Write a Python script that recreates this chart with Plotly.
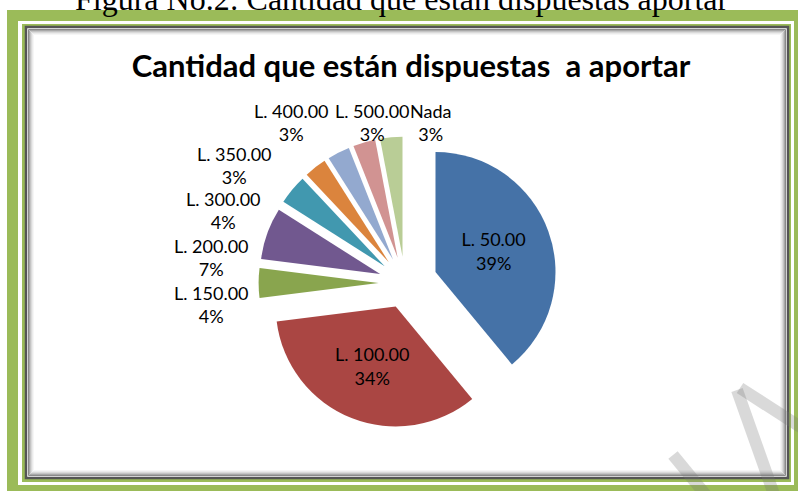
import plotly.graph_objects as go

W, H = 798, 491

# datos del gráfico
etiquetas = ["L. 50.00", "L. 100.00", "L. 150.00", "L. 200.00", "L. 300.00",
             "L. 350.00", "L. 400.00", "L. 500.00", "Nada"]
porcentajes = [39, 34, 4, 7, 4, 3, 3, 3, 3]
colores = ["#4572A7", "#AA4643", "#89A54E", "#71588F", "#4198AF",
           "#DB843D", "#93A9CF", "#D19392", "#B9CD96"]

# the two big slices get their label inside, the small ones outside (placed by hand, like Excel's best fit)
dentro = [True, True, False, False, False, False, False, False, False]
pos_fuera = {2: (211, 304), 3: (211, 257), 4: (223, 210), 5: (234, 165),
             6: (291, 123), 7: (372, 123), 8: (430, 123)}

VERDE = "#9BBB59"
FUENTE = "Lato"
TAM = 18


def px(x):
    return x / W


def py(y):
    return 1 - y / H


def rect(x0, y0, x1, y1, **kw):
    return dict(type="rect", xref="paper", yref="paper",
                x0=px(x0), x1=px(x1), y0=py(y1), y1=py(y0), layer="below", **kw)


# pie centred at (405, 283) px with radius ~120 px
max_pull = 0.27
half = 120 * (1 + max_pull)
cx, cy = 405, 283

textos = [f"{e}<br>{p}%" if d else "" for e, p, d in zip(etiquetas, porcentajes, dentro)]

fig = go.Figure(go.Pie(
    labels=etiquetas,
    values=porcentajes,
    sort=False,
    direction="clockwise",
    rotation=0,
    pull=[0.27, 0.21, 0.22, 0.22, 0.22, 0.22, 0.22, 0.22, 0.22],
    marker=dict(colors=colores, line=dict(width=0)),
    text=textos,
    textinfo="text",
    textposition="inside",
    insidetextorientation="horizontal",
    textfont=dict(family=FUENTE, size=TAM, color="black"),
    showlegend=False,
    hoverinfo="label+percent",
    domain=dict(x=[px(cx - half), px(cx + half)], y=[py(cy + half), py(cy - half)]),
))

shapes = [
    rect(7, 10, 830, 520, fillcolor=VERDE, line=dict(width=0)),
    rect(18, 21, 794, 485, fillcolor="white", line=dict(width=0)),
    rect(22, 24, 791, 482, fillcolor=VERDE, line=dict(width=0)),
    rect(26, 27, 788, 478, fillcolor="white", line=dict(color="#555555", width=2.5)),
]
# inner shadow of the chart area
sombra = ["#8a8a8a", "#a8a8a8", "#c4c4c4", "#dadada", "#ebebeb", "#f6f6f6"]
for i, c in enumerate(sombra):
    d = 2.5 + i
    shapes.append(rect(26 + d, 27 + d, 788 - d, 478 - d, line=dict(color=c, width=1)))

# watermark strokes at the bottom right
gris = "rgba(120,120,120,0.28)"
for (x0, y0, x1, y1) in [(673, 455, 710, 500), (737, 390, 776, 500), (740, 388, 805, 430)]:
    shapes.append(dict(type="line", xref="paper", yref="paper", layer="above",
                       x0=px(x0), y0=py(y0), x1=px(x1), y1=py(y1),
                       line=dict(color=gris, width=12)))

anotaciones = [dict(text="Figura No.2: Cantidad que están dispuestas aportar",
                    xref="paper", yref="paper", x=px(402), y=py(-1),
                    xanchor="center", yanchor="middle", showarrow=False,
                    font=dict(family="Liberation Serif", size=32, color="black"))]
for i, (x, y) in pos_fuera.items():
    anotaciones.append(dict(text=f"{etiquetas[i]}<br>{porcentajes[i]}%",
                            xref="paper", yref="paper", x=px(x), y=py(y),
                            xanchor="center", yanchor="middle", align="center",
                            showarrow=False,
                            font=dict(family=FUENTE, size=TAM, color="black")))

fig.update_layout(
    width=W, height=H,
    margin=dict(l=0, r=0, t=0, b=0, pad=0, autoexpand=False),
    paper_bgcolor="white",
    shapes=shapes,
    title=dict(text="<b>Cantidad que están dispuestas  a aportar</b>",
               x=px(411), y=py(66), xanchor="center", yanchor="middle",
               font=dict(family=FUENTE, size=31, color="black")),
    annotations=anotaciones,
)

# drop the browser's default body margin so the figure sits at the page corner
fig.write_html("out.html", config={"displayModeBar": False},
               post_script="document.body.style.margin='0px';")
